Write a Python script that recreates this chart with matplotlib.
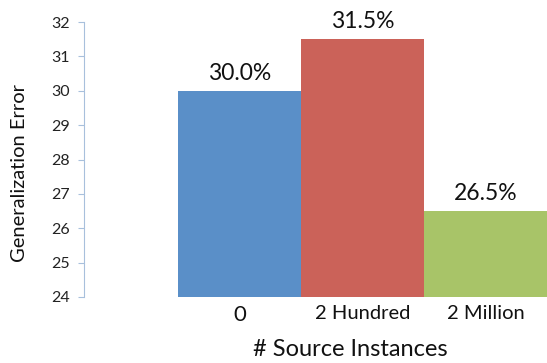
import matplotlib
matplotlib.use("Agg")
import matplotlib.pyplot as plt

# data
categories = ["0", "2 Hundred", "2 Million"]
errors = [30.0, 31.5, 26.5]
bar_labels = ["30.0%", "31.5%", "26.5%"]
bar_colors = ["#5A8FC8", "#CB6259", "#A8C468"]
y_ticks = [24, 25, 26, 27, 28, 29, 30, 31, 32]

plt.rcParams["font.family"] = ["Lato", "DejaVu Sans"]

fig = plt.figure(figsize=(5.47, 3.63), dpi=100)
ax = fig.add_axes([84 / 547, 1 - 297 / 363, (547 - 84) / 547, (297 - 22) / 363])

x = list(range(len(categories)))
ax.bar(x, [e - 24 for e in errors], bottom=24, width=1.0, color=bar_colors)

for xi, e, lab in zip(x, errors, bar_labels):
    ax.text(xi, e + 0.2, lab, ha="center", va="bottom", fontsize=16.5, color="#111111")

ax.set_ylim(24, 32)
ax.set_xlim(-1.26, 2.495)
ax.set_yticks(y_ticks)
ax.set_yticklabels([str(t) for t in y_ticks], fontsize=11.5, color="#222222")
ax.tick_params(axis="y", length=4, width=0.8, color="#A8C0DC", pad=6)

ax.set_xticks(x)
ax.set_xticklabels(categories, fontsize=14.5, color="#111111")
ax.tick_params(axis="x", length=0, pad=6)
ax.get_xticklabels()[0].set_fontsize(16)

ax.spines[["top", "right", "bottom"]].set_visible(False)
ax.spines["left"].set_color("#A8C0DC")

fig.text(20 / 547, 1 - 173 / 363, "Generalization Error", rotation=90,
         ha="center", va="center", fontsize=14.5, color="#111111")
fig.text(350 / 547, 1 - 350 / 363, "# Source Instances",
         ha="center", va="center", fontsize=17, color="#111111")

fig.savefig("out.png", dpi=100)
